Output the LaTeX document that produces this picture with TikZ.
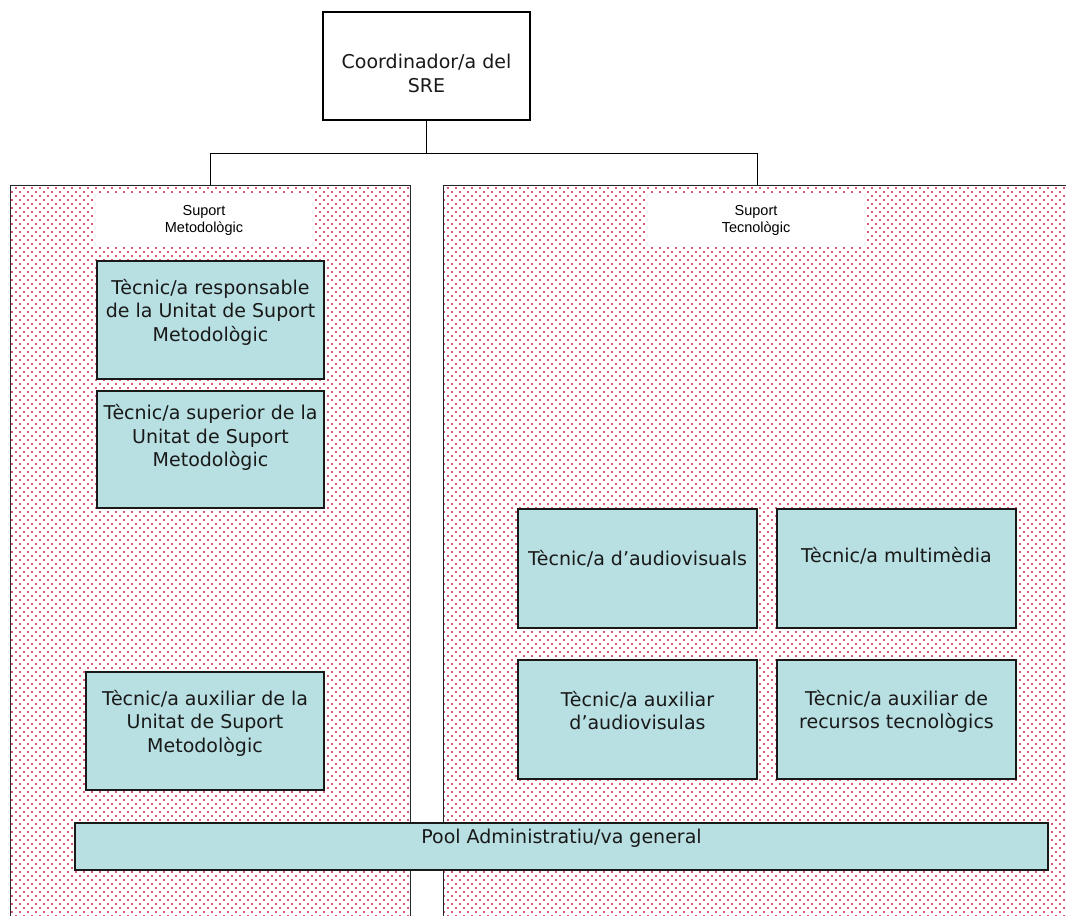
\documentclass[tikz,border=0pt]{standalone}
\usepackage{fontspec}
\setmainfont{DejaVu Sans}
\newfontfamily\tagfont{Liberation Sans}
\usetikzlibrary{patterns}

% sparse red dot texture for the two service areas
\pgfdeclarepatternformonly{pinkdots}{\pgfqpoint{-1.5pt}{-1.5pt}}{\pgfqpoint{6.5pt}{6.5pt}}{\pgfqpoint{8pt}{8pt}}{%
  \pgfpathcircle{\pgfqpoint{0pt}{0pt}}{1.15pt}%
  \pgfpathcircle{\pgfqpoint{4pt}{4pt}}{1.15pt}%
  \pgfusepath{fill}}

\definecolor{dotred}{RGB}{200,30,65}
\definecolor{staff}{RGB}{184,223,226}

\tikzset{
  panel/.style={draw=black!85, line width=1pt, pattern=pinkdots, pattern color=dotred,
    inner sep=0pt, minimum width=#1, minimum height=760pt},
  areatag/.style={fill=white, inner sep=0pt, minimum width=218pt, minimum height=50pt,
    align=center, font=\tagfont\fontsize{14.5}{17}\selectfont},
  staffbox/.style={draw=black!90, line width=1.5pt, fill=staff, inner sep=0pt},
  stafftext/.style={align=center, inner sep=0pt, font=\fontsize{19}{23.5}\selectfont, text=black!90},
  chief/.style={draw=black, line width=1.2pt, fill=white, inner sep=0pt,
    minimum width=207pt, minimum height=108pt},
  link/.style={draw=black, line width=1pt},
}

\begin{document}
\begin{tikzpicture}[x=1pt,y=-1pt]
\useasboundingbox (0,0) rectangle (1066,916);
\clip (0,0) rectangle (1066,916);

% service areas
\node[panel=400pt] (met) at (210,565) {};
\node[panel=628pt] (tec) at (757,565) {};

\node[areatag] (mettag) at (204,220) {Suport\\Metodològic};
\node[areatag] (tectag) at (756,220) {Suport\\Tecnològic};

% head of the service
\node[chief] (coord) at (426.5,66) {};
\node[stafftext, yshift=-7.5pt] (coordt) at (coord.center) {Coordinador/a del\\SRE};

\draw[link] (coord.south) -- ++(0,33) coordinate (fork);
\draw[link] (fork) -| (met.north);
\draw[link] (fork) -| (tec.north);

% methodological support staff
\node[staffbox, minimum width=227pt, minimum height=118pt] (m1) at (210.5,320) {};
\node[stafftext, yshift=8pt] (m1t) at (m1.center) {Tècnic/a responsable\\de la Unitat de Suport\\Metodològic};

\node[staffbox, minimum width=227pt, minimum height=117pt] (m2) at (210.5,449.5) {};
\node[stafftext, yshift=12pt] (m2t) at (m2.center) {Tècnic/a superior de la\\Unitat de Suport\\Metodològic};

\node[staffbox, minimum width=238pt, minimum height=118pt] (m3) at (205,731) {};
\node[stafftext, yshift=8pt] (m3t) at (m3.center) {Tècnic/a auxiliar de la\\Unitat de Suport\\Metodològic};

% technological support staff
\node[staffbox, minimum width=239pt, minimum height=119pt] (t1) at (637.5,568.5) {};
\node[stafftext, yshift=10pt] (t1t) at (t1.center) {Tècnic/a d’audiovisuals};

\node[staffbox, minimum width=239pt, minimum height=119pt] (t2) at (896.5,568.5) {};
\node[stafftext, yshift=13pt] (t2t) at (t2.center) {Tècnic/a multimèdia};

\node[staffbox, minimum width=239pt, minimum height=119pt] (t3) at (637.5,719.5) {};
\node[stafftext, yshift=9pt] (t3t) at (t3.center) {Tècnic/a auxiliar\\d’audiovisulas};

\node[staffbox, minimum width=239pt, minimum height=119pt] (t4) at (896.5,719.5) {};
\node[stafftext, yshift=8pt] (t4t) at (t4.center) {Tècnic/a auxiliar de\\recursos tecnològics};

% shared administrative pool
\node[staffbox, minimum width=973pt, minimum height=47pt] (pool) at (561.5,846.5) {};
\node[stafftext, yshift=8.5pt] (poolt) at (pool.center) {Pool Administratiu/va general};

\end{tikzpicture}
\end{document}
